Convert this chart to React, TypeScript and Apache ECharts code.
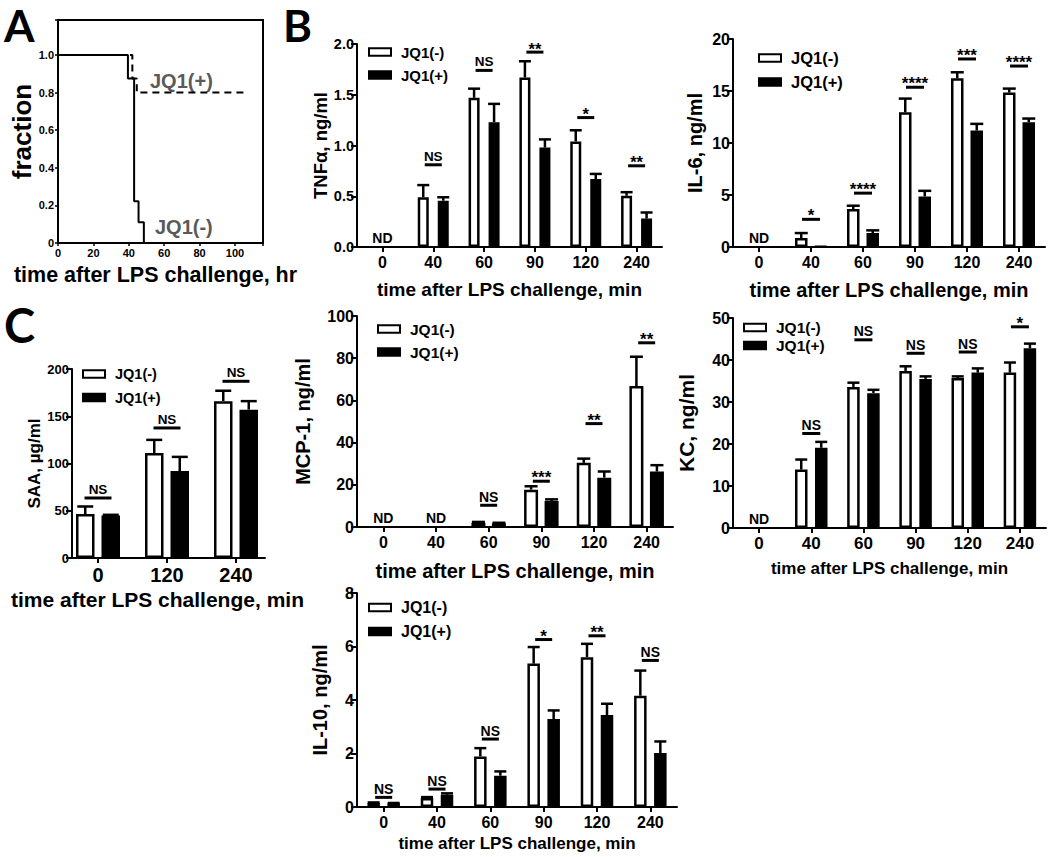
import React, { useEffect, useRef } from 'react';
import * as echarts from 'echarts';

const FONT = '"Liberation Sans", Arial, Helvetica, sans-serif';
const LETTER_FONT = 'Lato, "Open Sans", sans-serif';

// ---------- Panel A: survival ----------
const survivalHoursNeg = [0, 39.5, 39.5, 43, 43, 45.5, 45.5, 48.5, 48.5];
const survivalFracNeg = [1, 1, 0.875, 0.875, 0.222, 0.222, 0.111, 0.111, 0];
const survivalHoursPos = [0, 42, 42, 44.5, 44.5, 107];
const survivalFracPos = [1, 1, 0.875, 0.875, 0.8, 0.8];

// ---------- categories ----------
const timeCats = ['0', '40', '60', '90', '120', '240'];
const saaCats = ['0', '120', '240'];

// ---------- TNF ----------
const tnfNeg = [null, 0.49, 1.47, 1.67, 1.04, 0.505];
const tnfNegSem = [null, 0.12, 0.09, 0.16, 0.11, 0.035];
const tnfPos = [null, 0.456, 1.23, 0.98, 0.67, 0.28];
const tnfPosSem = [null, 0.034, 0.18, 0.08, 0.05, 0.06];
const tnfSig = [null, 0.81, 1.74, 1.92, 1.275, 0.8];
const tnfSigText = ['', 'NS', 'NS', '**', '*', '**'];
const tnfND = ['ND', '', '', '', '', ''];

// ---------- IL-6 ----------
const il6Neg = [null, 0.86, 3.65, 12.96, 16.22, 14.85];
const il6NegSem = [null, 0.48, 0.32, 1.31, 0.58, 0.38];
const il6Pos = [null, 0.06, 1.34, 4.86, 11.2, 12.0];
const il6PosSem = [null, 0, 0.26, 0.54, 0.64, 0.35];
const il6Sig = [null, 2.66, 5.18, 15.36, 18.08, 17.4];
const il6SigText = ['', '*', '****', '****', '***', '****'];
const il6ND = ['ND', '', '', '', '', ''];

// ---------- SAA ----------
const saaNeg = [46.5, 111, 166];
const saaNegSem = [8, 14, 11];
const saaPos = [45, 92, 157];
const saaPosSem = [0.7, 15, 9];
const saaSig = [63.5, 137.6, 187];
const saaSigText = ['NS', 'NS', 'NS'];
const saaND = ['', '', ''];

// ---------- MCP-1 ----------
const mcpNeg = [null, null, 2.0, 17.7, 30.4, 66.8];
const mcpNegSem = [null, null, 0.4, 1.6, 2.0, 13.9];
const mcpPos = [null, null, 1.7, 12.3, 23.4, 26.3];
const mcpPosSem = [null, null, 0.3, 0.8, 2.9, 3.0];
const mcpSig = [null, null, 10.3, 21.7, 49, 87.3];
const mcpSigText = ['', '', 'NS', '***', '**', '**'];
const mcpND = ['ND', 'ND', '', '', '', ''];

// ---------- KC ----------
const kcNeg = [null, 13.9, 33.6, 37.4, 35.7, 37.0];
const kcNegSem = [null, 2.4, 1.0, 1.1, 0.4, 2.4];
const kcPos = [null, 19.1, 32.1, 35.5, 37.0, 42.8];
const kcPosSem = [null, 1.4, 0.8, 0.6, 1.0, 1.1];
const kcSig = [null, 22.5, 44.8, 41.6, 41.9, 47.9];
const kcSigText = ['', 'NS', 'NS', 'NS', 'NS', '*'];
const kcND = ['ND', '', '', '', '', ''];

// ---------- IL-10 ----------
const il10Neg = [0.15, 0.34, 1.89, 5.36, 5.6, 4.16];
const il10NegSem = [0.02, 0.03, 0.31, 0.62, 0.5, 0.94];
const il10Pos = [0.14, 0.46, 1.17, 3.29, 3.44, 2.02];
const il10PosSem = [0.01, 0.05, 0.16, 0.32, 0.42, 0.43];
const il10Sig = [0.36, 0.67, 2.54, 6.26, 6.4, 5.48];
const il10SigText = ['NS', 'NS', 'NS', '*', '**', 'NS'];
const il10ND = ['', '', '', '', '', ''];

const xTitleMin = 'time after LPS challenge, min';
const NEG = 'JQ1(-)';
const POS = 'JQ1(+)';

type Arr = (number | null)[];
interface Panel {
  cats: string[];
  neg: Arr; negSem: Arr; pos: Arr; posSem: Arr;
  sig: Arr; sigText: string[]; nd: string[];
  yMax: number; yInterval: number; yDecimals: number; yName: string;
  L: any;
}

const panels: Panel[] = [
  {
    cats: timeCats, neg: tnfNeg, negSem: tnfNegSem, pos: tnfPos, posSem: tnfPosSem,
    sig: tnfSig, sigText: tnfSigText, nd: tnfND, yMax: 2, yInterval: 0.5, yDecimals: 1,
    yName: 'TNFα, ng/ml',
    L: { axisX: 357, top: 44, bottom: 247, right: 662, barWidth: 11, dist: 20, capW: 12, sigW: 17,
      yNameSize: 18.5, yNameGap: 27, xNameSize: 19, xNameGap: 33, xShift: 0,
      yLabelSize: 14.5, xLabelSize: 16, legendLeft: 368, legendTop: 44, legendGap: 7, legendSize: 15, sigSize: 13.5 },
  },
  {
    cats: timeCats, neg: il6Neg, negSem: il6NegSem, pos: il6Pos, posSem: il6PosSem,
    sig: il6Sig, sigText: il6SigText, nd: il6ND, yMax: 20, yInterval: 5, yDecimals: 0,
    yName: 'IL-6, ng/ml',
    L: { axisX: 733, top: 39, bottom: 247, right: 1045, barWidth: 12.5, dist: 19.5, capW: 13, sigW: 18,
      yNameSize: 20, yNameGap: 28, xNameSize: 20, xNameGap: 33, xShift: 0,
      yLabelSize: 16, xLabelSize: 16, legendLeft: 758, legendTop: 49.5, legendGap: 7, legendSize: 16.5, sigSize: 14 },
  },
  {
    cats: saaCats, neg: saaNeg, negSem: saaNegSem, pos: saaPos, posSem: saaPosSem,
    sig: saaSig, sigText: saaSigText, nd: saaND, yMax: 200, yInterval: 50, yDecimals: 0,
    yName: 'SAA, µg/ml',
    L: { axisX: 72, top: 369, bottom: 558, right: 265, innerLeft: 63.5, innerRight: 270.5,
      barWidth: 18.5, dist: 25.5, capW: 16, sigW: 27,
      yNameSize: 17, yNameGap: 29, xNameSize: 21, xNameGap: 31, xShift: -11,
      yLabelSize: 13, xLabelSize: 20, legendLeft: 82, legendTop: 366, legendGap: 7.5, legendSize: 14.5, sigSize: 13.5 },
  },
  {
    cats: timeCats, neg: mcpNeg, negSem: mcpNegSem, pos: mcpPos, posSem: mcpPosSem,
    sig: mcpSig, sigText: mcpSigText, nd: mcpND, yMax: 100, yInterval: 20, yDecimals: 0,
    yName: 'MCP-1, ng/ml',
    L: { axisX: 357, top: 316, bottom: 527, right: 673, barWidth: 14, dist: 20.5, capW: 13, sigW: 17,
      yNameSize: 20, yNameGap: 44, xNameSize: 20, xNameGap: 34, xShift: 0,
      yLabelSize: 16, xLabelSize: 16, legendLeft: 377, legendTop: 321, legendGap: 7, legendSize: 15.5, sigSize: 14 },
  },
  {
    cats: timeCats, neg: kcNeg, negSem: kcNegSem, pos: kcPos, posSem: kcPosSem,
    sig: kcSig, sigText: kcSigText, nd: kcND, yMax: 50, yInterval: 10, yDecimals: 0,
    yName: 'KC, ng/ml',
    L: { axisX: 733, top: 318, bottom: 528, right: 1046, barWidth: 12.5, dist: 20, capW: 12, sigW: 18,
      yNameSize: 21, yNameGap: 36, xNameSize: 17, xNameGap: 32, xShift: 0,
      yLabelSize: 16, xLabelSize: 17, legendLeft: 743, legendTop: 319.5, legendGap: 2, legendSize: 15.5, sigSize: 14 },
  },
  {
    cats: timeCats, neg: il10Neg, negSem: il10NegSem, pos: il10Pos, posSem: il10PosSem,
    sig: il10Sig, sigText: il10SigText, nd: il10ND, yMax: 8, yInterval: 2, yDecimals: 0,
    yName: 'IL-10, ng/ml',
    L: { axisX: 357, top: 593, bottom: 807, right: 677, barWidth: 12.5, dist: 20, capW: 12, sigW: 17,
      yNameSize: 20, yNameGap: 27, xNameSize: 17, xNameGap: 28, xShift: 0,
      yLabelSize: 16, xLabelSize: 16, legendLeft: 368, legendTop: 599.5, legendGap: 8, legendSize: 16, sigSize: 14 },
  },
];

function buildOption() {
  const grids: any[] = [];
  const xAxes: any[] = [];
  const yAxes: any[] = [];
  const series: any[] = [];
  const legends: any[] = [];
  const black = '#000';

  // ----- Panel A -----
  grids.push({ left: 58, top: 20, width: 205, height: 223, show: true, borderColor: black, borderWidth: 2, backgroundColor: 'transparent' });
  xAxes.push({
    gridIndex: 0, type: 'value', min: 0, max: 115.8, interval: 20,
    axisLine: { show: true, lineStyle: { color: black, width: 2 } },
    axisTick: { show: true, length: 3, lineStyle: { color: black, width: 1.5 } },
    splitLine: { show: false },
    axisLabel: {
      color: black, fontWeight: 'bold', fontSize: 11, fontFamily: FONT, margin: 4,
      formatter: (v: number) => (Math.abs(v / 20 - Math.round(v / 20)) < 1e-6 && v <= 100 ? String(v) : ''),
    },
    name: 'time after LPS challenge, hr', nameLocation: 'middle', nameGap: 21,
    nameTextStyle: { color: black, fontWeight: 'bold', fontSize: 21.5, fontFamily: FONT, padding: [0, 10, 0, 0] },
  });
  yAxes.push({
    gridIndex: 0, type: 'value', min: 0, max: 1.186, interval: 0.2,
    axisLine: { show: true, lineStyle: { color: black, width: 2 } },
    axisTick: { show: true, length: 3, lineStyle: { color: black, width: 1.5 } },
    splitLine: { show: false },
    axisLabel: {
      color: black, fontWeight: 'bold', fontSize: 11, fontFamily: FONT, margin: 4,
      formatter: (v: number) => {
        if (Math.abs(v / 0.2 - Math.round(v / 0.2)) > 1e-6 || v > 1.0001) return '';
        return v === 0 ? '0' : v.toFixed(1);
      },
    },
    name: 'fraction', nameLocation: 'middle', nameGap: 20,
    nameTextStyle: { color: black, fontWeight: 'bold', fontSize: 26, fontFamily: FONT },
  });
  series.push({
    type: 'line', xAxisIndex: 0, yAxisIndex: 0, symbol: 'none', z: 3,
    data: survivalHoursPos.map((h, k) => [h, survivalFracPos[k]]),
    lineStyle: { color: black, width: 2, type: [7, 5] },
  });
  series.push({
    type: 'line', xAxisIndex: 0, yAxisIndex: 0, symbol: 'none', z: 4,
    data: survivalHoursNeg.map((h, k) => [h, survivalFracNeg[k]]),
    lineStyle: { color: black, width: 2 },
  });

  // ----- Bar panels -----
  panels.forEach((p) => {
    const L = p.L;
    const innerLeft = L.innerLeft ?? L.axisX;
    const innerRight = L.innerRight ?? L.right;
    const og = grids.length;
    grids.push({ left: L.axisX, top: L.top, width: L.right - L.axisX, height: L.bottom - L.top });
    const ig = grids.length;
    grids.push({ left: innerLeft, top: L.top, width: innerRight - innerLeft, height: L.bottom - L.top });

    xAxes.push({
      gridIndex: og, type: 'value', min: 0, max: 1,
      axisLine: { show: true, lineStyle: { color: black, width: 2 } },
      axisTick: { show: false }, axisLabel: { show: false }, splitLine: { show: false },
      name: xTitleMin, nameLocation: 'middle', nameGap: L.xNameGap,
      nameTextStyle: {
        color: black, fontWeight: 'bold', fontSize: L.xNameSize, fontFamily: FONT,
        padding: L.xShift < 0 ? [0, -2 * L.xShift, 0, 0] : [0, 0, 0, 2 * L.xShift],
      },
    });
    const xi = xAxes.length;
    xAxes.push({
      gridIndex: ig, type: 'category', data: p.cats,
      axisLine: { show: false },
      axisTick: { show: true, alignWithLabel: true, length: 5, lineStyle: { color: black, width: 2 } },
      axisLabel: { color: black, fontWeight: 'bold', fontSize: L.xLabelSize, fontFamily: FONT, interval: 0, margin: 7 },
      splitLine: { show: false },
    });
    yAxes.push({
      gridIndex: og, type: 'value', min: 0, max: p.yMax, interval: p.yInterval,
      axisLine: { show: true, lineStyle: { color: black, width: 2 } },
      axisTick: { show: true, length: 6, lineStyle: { color: black, width: 2 } },
      splitLine: { show: false },
      axisLabel: {
        color: black, fontWeight: 'bold', fontSize: L.yLabelSize, fontFamily: FONT, margin: 3,
        formatter: (v: number) => v.toFixed(p.yDecimals),
      },
      name: p.yName, nameLocation: 'middle', nameGap: L.yNameGap,
      nameTextStyle: { color: black, fontWeight: 'bold', fontSize: L.yNameSize, fontFamily: FONT },
    });
    const yi = yAxes.length;
    yAxes.push({ gridIndex: ig, type: 'value', min: 0, max: p.yMax, show: false, splitLine: { show: false } });

    const gap = ((L.dist - L.barWidth) / L.barWidth) * 100 + '%';
    series.push({
      type: 'bar', name: NEG, xAxisIndex: xi, yAxisIndex: yi, data: p.neg,
      barWidth: L.barWidth, barGap: gap, z: 2,
      itemStyle: { color: '#fff', borderColor: black, borderWidth: 2.5 },
    });
    series.push({
      type: 'bar', name: POS, xAxisIndex: xi, yAxisIndex: yi, data: p.pos,
      barWidth: L.barWidth, barGap: gap, z: 2,
      itemStyle: { color: black, borderColor: black, borderWidth: 2.5 },
    });

    const errData = (vals: Arr, sems: Arr) =>
      vals
        .map((v, k) => (v == null ? null : [k, v, sems[k] ?? 0]))
        .filter((d) => d !== null);
    [[p.neg, p.negSem, -1], [p.pos, p.posSem, 1]].forEach(([vals, sems, sign]: any) => {
      series.push({
        type: 'custom', xAxisIndex: xi, yAxisIndex: yi, z: 3, silent: true,
        data: errData(vals, sems),
        renderItem: (params: any, api: any) => {
          const k = api.value(0);
          const m = api.value(1);
          const s = api.value(2);
          if (!(s > 0)) return null;
          const b = api.coord([k, m]);
          const t = api.coord([k, m + s]);
          const x = b[0] + (sign * L.dist) / 2;
          return {
            type: 'group',
            children: [
              { type: 'line', shape: { x1: x, y1: b[1], x2: x, y2: t[1] }, style: { stroke: black, lineWidth: 2.5 } },
              { type: 'line', shape: { x1: x - L.capW / 2, y1: t[1], x2: x + L.capW / 2, y2: t[1] }, style: { stroke: black, lineWidth: 2.5 } },
            ],
          };
        },
      });
    });

    // significance markers
    const sigIdx: number[] = [];
    p.sig.forEach((v, k) => { if (v != null) sigIdx.push(k); });
    series.push({
      type: 'custom', xAxisIndex: xi, yAxisIndex: yi, z: 4, silent: true,
      data: sigIdx.map((k) => [k, p.sig[k]]),
      renderItem: (params: any, api: any) => {
        const k = api.value(0);
        const c = api.coord([k, api.value(1)]);
        const txt = p.sigText[k];
        const star = txt.indexOf('*') >= 0;
        return {
          type: 'group',
          children: [
            { type: 'line', shape: { x1: c[0] - L.sigW / 2, y1: c[1], x2: c[0] + L.sigW / 2, y2: c[1] }, style: { stroke: black, lineWidth: 3 } },
            {
              type: 'text', x: c[0], y: c[1] + (star ? 5 : -1.5),
              style: {
                text: txt, align: 'center', verticalAlign: 'bottom', fill: black,
                fontSize: star ? L.sigSize + 3 : L.sigSize, fontWeight: 'bold', fontFamily: FONT,
              },
            },
          ],
        };
      },
    });
    // ND labels
    const ndIdx: number[] = [];
    p.nd.forEach((t, k) => { if (t) ndIdx.push(k); });
    if (ndIdx.length) {
      series.push({
        type: 'custom', xAxisIndex: xi, yAxisIndex: yi, z: 4, silent: true,
        data: ndIdx.map((k) => [k, 0]),
        renderItem: (params: any, api: any) => {
          const k = api.value(0);
          const c = api.coord([k, 0]);
          return {
            type: 'text', x: c[0], y: c[1] - 2,
            style: { text: p.nd[k], align: 'center', verticalAlign: 'bottom', fill: black, fontSize: 14, fontWeight: 'bold', fontFamily: FONT },
          };
        },
      });
    }

    legends.push({
      data: [NEG, POS], orient: 'vertical', left: L.legendLeft, top: L.legendTop,
      itemWidth: 22, itemHeight: 7.5, itemGap: L.legendGap, padding: 0, selectedMode: false, icon: 'rect',
      textStyle: { color: black, fontWeight: 'bold', fontSize: L.legendSize, fontFamily: FONT, lineHeight: 16, padding: [0, 0, 0, 5] },
    });
  });

  const graphic: any[] = [
    { type: 'text', left: 4, top: 3, style: { text: 'A', fontSize: 44, fontWeight: 'bold', fontFamily: LETTER_FONT, fill: black } },
    { type: 'text', left: 283, top: 3, style: { text: 'B', fontSize: 44, fontWeight: 'bold', fontFamily: LETTER_FONT, fill: black } },
    { type: 'text', left: 4, top: 301, style: { text: 'C', fontSize: 47, fontWeight: 'bold', fontFamily: LETTER_FONT, fill: black } },
    { type: 'text', left: 150, top: 71, style: { text: 'JQ1(+)', fontSize: 20, fontWeight: 'bold', fontFamily: FONT, fill: '#5a5a5a' } },
    { type: 'text', left: 155, top: 217, style: { text: 'JQ1(-)', fontSize: 20, fontWeight: 'bold', fontFamily: FONT, fill: '#5a5a5a' } },
  ];

  return {
    animation: false,
    backgroundColor: '#fff',
    textStyle: { fontFamily: FONT },
    grid: grids,
    xAxis: xAxes,
    yAxis: yAxes,
    legend: legends,
    series,
    graphic,
  };
}

export default function App() {
  const ref = useRef<HTMLDivElement>(null);
  useEffect(() => {
    if (!ref.current) return;
    const chart = echarts.init(ref.current, undefined, { renderer: 'svg' });
    chart.setOption(buildOption() as any);
    return () => chart.dispose();
  }, []);
  return (
    <div
      ref={ref}
      style={{ position: 'fixed', left: 0, top: 0, width: 1050, height: 857, background: '#fff' }}
    />
  );
}
